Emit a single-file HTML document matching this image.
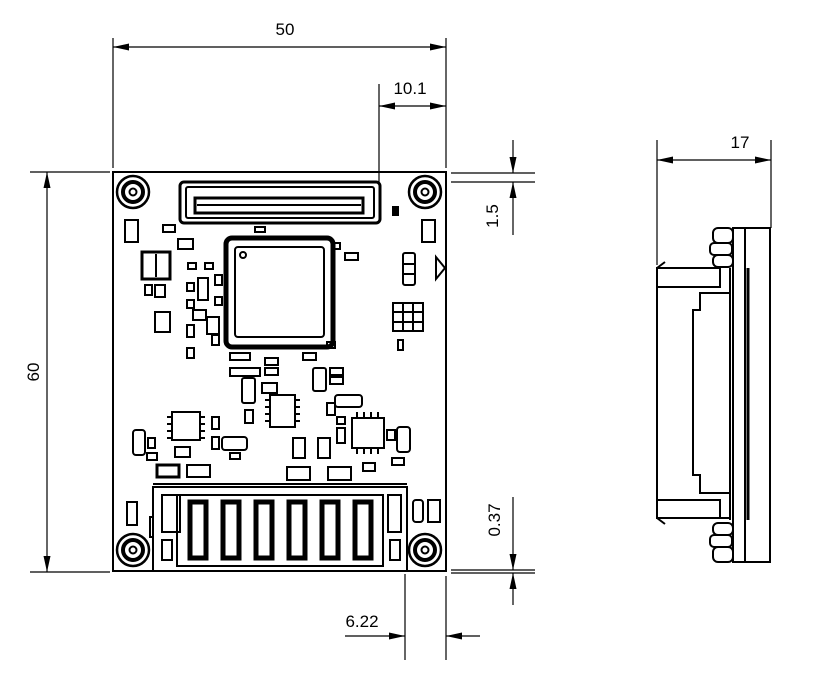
<!DOCTYPE html>
<html><head><meta charset="utf-8"><style>
html,body{margin:0;padding:0;background:#fff;width:813px;height:674px;overflow:hidden}
svg{display:block}
text{font-family:"Liberation Sans","DejaVu Sans",sans-serif;font-size:17px;fill:#000}
</style></head><body>
<svg width="813" height="674" viewBox="0 0 813 674" xmlns="http://www.w3.org/2000/svg">
<defs>
<marker id="a" viewBox="0 0 16 8" refX="16" refY="4" markerWidth="16" markerHeight="8" markerUnits="userSpaceOnUse" orient="auto-start-reverse"><path d="M0,0.5 L16,4 L0,7.5 Z" fill="#000"/></marker>
</defs>
<g stroke="#000" stroke-width="1.2" fill="none">
<line x1="113" y1="38" x2="113" y2="168"/><line x1="446" y1="38" x2="446" y2="168"/>
<line x1="113" y1="47" x2="446" y2="47" marker-start="url(#a)" marker-end="url(#a)"/>
<line x1="379" y1="84" x2="379" y2="185"/>
<line x1="379" y1="106" x2="446" y2="106" marker-start="url(#a)" marker-end="url(#a)"/>
<line x1="451" y1="173" x2="535" y2="173"/><line x1="451" y1="182" x2="535" y2="182"/>
<line x1="513" y1="140" x2="513" y2="173" marker-end="url(#a)"/>
<line x1="513" y1="235" x2="513" y2="182" marker-end="url(#a)"/>
<line x1="30" y1="172" x2="110" y2="172"/><line x1="30" y1="572" x2="110" y2="572"/>
<line x1="47" y1="172" x2="47" y2="572" marker-start="url(#a)" marker-end="url(#a)"/>
<line x1="451" y1="570" x2="535" y2="570"/><line x1="451" y1="573" x2="535" y2="573"/>
<line x1="513" y1="497" x2="513" y2="570" marker-end="url(#a)"/>
<line x1="513" y1="605" x2="513" y2="573" marker-end="url(#a)"/>
<line x1="405" y1="574" x2="405" y2="660"/><line x1="446" y1="576" x2="446" y2="660"/>
<line x1="345" y1="636" x2="405" y2="636" marker-end="url(#a)"/>
<line x1="480" y1="636" x2="446" y2="636" marker-end="url(#a)"/>
<line x1="657" y1="140" x2="657" y2="265"/><line x1="771" y1="140" x2="771" y2="228"/>
<line x1="657" y1="160" x2="771" y2="160" marker-start="url(#a)" marker-end="url(#a)"/>
</g>
<text x="285" y="35" text-anchor="middle">50</text>
<text x="410" y="94" text-anchor="middle">10.1</text>
<text x="740" y="148" text-anchor="middle">17</text>
<text x="362" y="627" text-anchor="middle">6.22</text>
<text transform="translate(39,372) rotate(-90)" text-anchor="middle">60</text>
<text transform="translate(498,216) rotate(-90)" text-anchor="middle">1.5</text>
<text transform="translate(500,520) rotate(-90)" text-anchor="middle">0.37</text>

<g stroke="#000" stroke-width="2" fill="none">
<rect x="113" y="172" width="333" height="399"/>
<g>
<circle cx="133" cy="192" r="16" stroke-width="2.5"/><circle cx="133" cy="192" r="10" stroke-width="4"/><circle cx="133" cy="192" r="3.5"/>
<circle cx="425" cy="192" r="16" stroke-width="2.5"/><circle cx="425" cy="192" r="10" stroke-width="4"/><circle cx="425" cy="192" r="3.5"/>
<circle cx="133" cy="550" r="16" stroke-width="2.5"/><circle cx="133" cy="550" r="10" stroke-width="4"/><circle cx="133" cy="550" r="3.5"/>
<circle cx="425" cy="550" r="16" stroke-width="2.5"/><circle cx="425" cy="550" r="10" stroke-width="4"/><circle cx="425" cy="550" r="3.5"/>
</g>
<rect x="180" y="182" width="200" height="41" rx="4" stroke-width="3"/>
<rect x="186" y="187" width="188" height="31" rx="2"/>
<rect x="195" y="198" width="168" height="15" stroke-width="3"/>
<line x1="197" y1="205" x2="361" y2="205"/>
<rect x="226" y="238" width="107" height="109" rx="6" stroke-width="5"/>
<rect x="235" y="247" width="89" height="90" rx="3" fill="#fff"/>
<circle cx="243" cy="255" r="3"/>
<path d="M153,487 H407 V571 H153 Z"/>
<path d="M177,495 H383 V566 H177 Z"/>
<line x1="153" y1="484" x2="407" y2="484"/>
<g stroke-width="5">
<rect x="190" y="502" width="16" height="56"/><rect x="223" y="502" width="16" height="56"/>
<rect x="256" y="502" width="16" height="56"/><rect x="289" y="502" width="16" height="56"/>
<rect x="322" y="502" width="16" height="56"/><rect x="355" y="502" width="16" height="56"/>
</g>
<rect x="162" y="495" width="18" height="37"/><rect x="162" y="540" width="10" height="20"/>
<rect x="388" y="495" width="13" height="37"/><rect x="390" y="540" width="10" height="20"/>
<rect x="127" y="502" width="10" height="23"/><rect x="150" y="517" width="3" height="20"/>
<rect x="413" y="500" width="10" height="22" rx="3"/><rect x="428" y="500" width="12" height="22"/>
<rect x="270" y="395" width="25" height="32"/>
<path d="M265,400h5M265,407h5M265,414h5M265,421h5M295,400h5M295,407h5M295,414h5M295,421h5"/>
<rect x="172" y="412" width="28" height="28"/>
<path d="M167,417h5M167,424h5M167,431h5M167,438h5M200,417h5M200,424h5M200,431h5M200,438h5"/>
<rect x="352" y="418" width="32" height="30"/>
<path d="M357,412v6M364,412v6M371,412v6M378,412v6M357,448v6M364,448v6M371,448v6M378,448v6"/>
<rect x="393" y="303" width="30" height="28"/>
<path d="M393,312h30M393,322h30M403,303v28M413,303v28"/>
<rect x="125" y="220" width="13" height="22"/><rect x="422" y="220" width="13" height="22"/>
<rect x="163" y="225" width="12" height="7"/><rect x="178" y="239" width="15" height="10"/>
<rect x="255" y="227" width="10" height="5"/><rect x="345" y="253" width="13" height="7"/>
<rect x="142" y="252" width="28" height="27" stroke-width="3"/><line x1="156" y1="254" x2="156" y2="277"/>
<rect x="145" y="285" width="7" height="10"/><rect x="155" y="285" width="10" height="12"/>
<rect x="155" y="312" width="15" height="20"/>
<rect x="188" y="263" width="8" height="6"/><rect x="205" y="263" width="8" height="6"/>
<rect x="198" y="278" width="10" height="22"/><rect x="215" y="275" width="7" height="10"/>
<rect x="187" y="283" width="7" height="8"/><rect x="187" y="300" width="7" height="8"/>
<rect x="215" y="297" width="7" height="8"/><rect x="193" y="310" width="13" height="10"/>
<rect x="207" y="317" width="12" height="17"/><rect x="187" y="325" width="7" height="12"/>
<rect x="212" y="335" width="7" height="10"/><rect x="187" y="348" width="7" height="10"/>
<rect x="230" y="353" width="20" height="7"/><rect x="303" y="353" width="13" height="7"/>
<rect x="327" y="342" width="8" height="6"/><rect x="332" y="243" width="8" height="6"/>
<rect x="230" y="368" width="30" height="8"/>
<rect x="265" y="358" width="13" height="7"/><rect x="265" y="368" width="13" height="7"/>
<rect x="242" y="378" width="13" height="25" rx="2"/><rect x="262" y="383" width="15" height="10"/>
<rect x="245" y="410" width="8" height="13"/><rect x="175" y="447" width="15" height="10"/>
<rect x="212" y="417" width="7" height="12"/><rect x="212" y="437" width="7" height="12"/>
<rect x="133" y="430" width="12" height="25" rx="3"/><rect x="148" y="438" width="7" height="10"/>
<rect x="147" y="453" width="10" height="7"/>
<rect x="157" y="465" width="22" height="12" stroke-width="3"/><rect x="187" y="465" width="23" height="12"/>
<rect x="222" y="437" width="25" height="13" rx="3"/><rect x="230" y="453" width="10" height="6"/>
<rect x="313" y="368" width="13" height="23" rx="2"/>
<rect x="330" y="368" width="13" height="7"/><rect x="330" y="377" width="13" height="7"/>
<rect x="335" y="395" width="27" height="12" rx="3"/><rect x="327" y="403" width="8" height="12"/>
<rect x="337" y="417" width="8" height="7"/><rect x="337" y="428" width="8" height="15"/>
<rect x="387" y="430" width="8" height="10"/><rect x="397" y="427" width="13" height="25" rx="3"/>
<rect x="392" y="458" width="12" height="7"/>
<rect x="293" y="438" width="12" height="20"/><rect x="318" y="438" width="12" height="20"/>
<rect x="287" y="467" width="23" height="13"/><rect x="328" y="467" width="23" height="13"/>
<rect x="363" y="463" width="12" height="8"/>
<rect x="393" y="207" width="5" height="8" fill="#000"/>
<rect x="403" y="253" width="12" height="32" rx="2"/><line x1="403" y1="264" x2="415" y2="264"/><line x1="403" y1="274" x2="415" y2="274"/>
<path d="M436,257 V279 L445,268 Z"/>
<rect x="398" y="340" width="5" height="10"/>

<rect x="733" y="228" width="37" height="334"/>
<line x1="745" y1="228" x2="745" y2="562"/>
<line x1="748" y1="268" x2="748" y2="520" stroke-width="3"/>
<path d="M657,268 H720 V287 H657 Z"/>
<path d="M657,287 V518 H730"/>
<path d="M657,500 H720 V518"/>
<path d="M730,293 H700 V310 H693 V475 H700 V493 H730"/>
<line x1="730" y1="268" x2="730" y2="520"/>
<path d="M657,268 L665,262 M657,518 L665,524"/>
<rect x="713" y="228" width="20" height="15" rx="5"/><rect x="710" y="243" width="22" height="12" rx="4"/><rect x="713" y="255" width="20" height="12" rx="5"/>
<rect x="713" y="523" width="20" height="12" rx="5"/><rect x="710" y="535" width="22" height="12" rx="4"/><rect x="713" y="547" width="20" height="15" rx="5"/>
</g>
</svg>
</body></html>
